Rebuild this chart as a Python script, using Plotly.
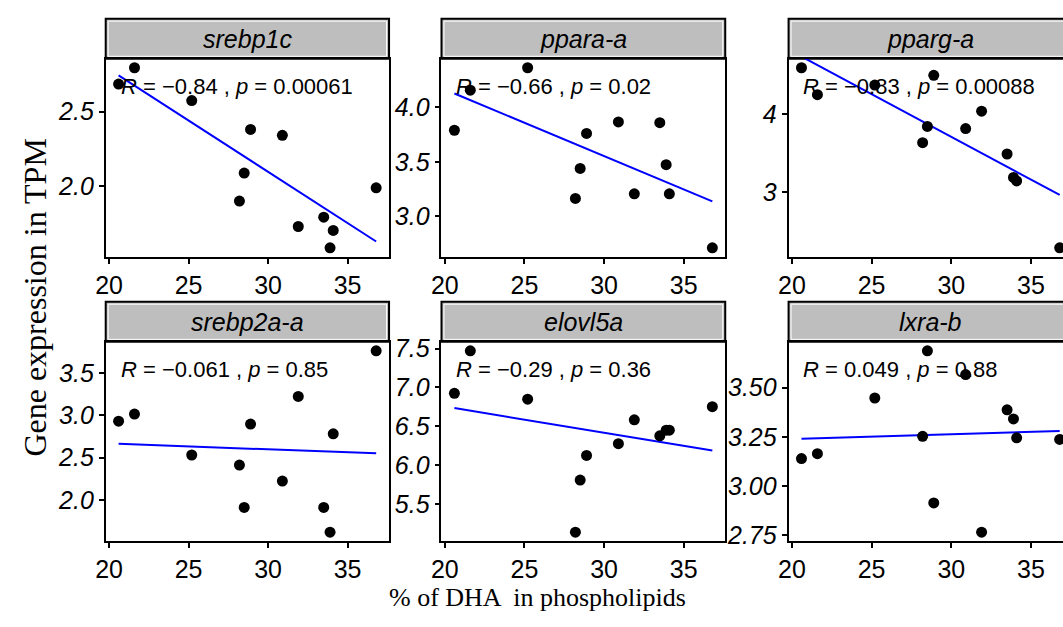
import numpy as np
import plotly.graph_objects as go

# ---------------- data ----------------
dha_pct = [20.6, 21.6, 25.2, 28.2, 28.5, 28.9, 30.9, 31.9, 33.5, 33.9, 34.1, 36.8]

genes = ["srebp1c", "ppara-a", "pparg-a", "srebp2a-a", "elovl5a", "lxra-b"]

srebp1c = [2.685, 2.794, 2.574, 1.902, 2.089, 2.381, 2.342, 1.732, 1.794, 1.589, 1.706, 1.991]
ppara_a = [3.79, 4.158, 4.364, 3.164, 3.439, 3.761, 3.866, 3.206, 3.859, 3.474, 3.206, 2.71]
pparg_a = [4.60, 4.253, 4.377, 3.635, 3.844, 4.502, 3.817, 4.04, 3.489, 3.187, 3.142, 2.28]
srebp2a_a = [2.931, 3.015, 2.531, 2.412, 1.911, 2.896, 2.223, 3.223, 1.911, 1.619, 2.781, 3.762]
elovl5a = [6.925, 7.47, 6.849, 5.14, 5.81, 6.126, 6.277, 6.583, 6.378, 6.45, 6.45, 6.752]
lxra_b = [3.14, 3.165, 3.447, 3.253, 3.686, 2.915, 3.566, 2.767, 3.387, 3.341, 3.245, 3.237]

expression = [srebp1c, ppara_a, pparg_a, srebp2a_a, elovl5a, lxra_b]

r_labels = ["\u22120.84", "\u22120.66", "\u22120.83", "\u22120.061", "\u22120.29", "0.049"]
p_labels = ["0.00061", "0.02", "0.00088", "0.85", "0.36", "0.88"]

x_ticks = [20, 25, 30, 35]
y_ticks = [
    [2.0, 2.5],
    [3.0, 3.5, 4.0],
    [3, 4],
    [2.0, 2.5, 3.0, 3.5],
    [5.5, 6.0, 6.5, 7.0, 7.5],
    [2.75, 3.00, 3.25, 3.50],
]
y_tick_text = [
    ["2.0", "2.5"],
    ["3.0", "3.5", "4.0"],
    ["3", "4"],
    ["2.0", "2.5", "3.0", "3.5"],
    ["5.5", "6.0", "6.5", "7.0", "7.5"],
    ["2.75", "3.00", "3.25", "3.50"],
]

x_title = "% of DHA  in phospholipids"
y_title = "Gene expression in TPM"

# ---------------- layout geometry (pixels) ----------------
W, H = 1063, 627
col_px = [(95.7, 382.0), (435.0, 721.7), (785.7, 1072.7)]
row_px = [(53.0, 256.0), (343.0, 547.3)]
strip_h = 41.0

SANS = "Arial, Liberation Sans, sans-serif"
SERIF = "Times New Roman, Liberation Serif, serif"

fig = go.Figure()
layout = dict(
    width=W, height=H,
    margin=dict(l=0, r=0, t=0, b=0),
    paper_bgcolor="white", plot_bgcolor="white",
    showlegend=False,
)
shapes = []
annotations = []

x_arr = np.array(dha_pct)
xspan = x_arr.max() - x_arr.min()
x_lo = x_arr.min() - 0.05 * xspan
x_hi = x_arr.max() + 0.05 * xspan

for i, gene in enumerate(genes):
    r, c = divmod(i, 3)
    idx = i + 1
    xa = "x" if idx == 1 else f"x{idx}"
    ya = "y" if idx == 1 else f"y{idx}"
    left, right = col_px[c]
    top, bot = row_px[r]

    d_right = min(right, W)
    xdom = [left / W, d_right / W]
    ydom = [1 - bot / H, 1 - top / H]
    xr_hi = x_lo + (x_hi - x_lo) * (d_right - left) / (right - left)

    y_arr = np.array(expression[i])
    yspan = y_arr.max() - y_arr.min()
    y_lo = y_arr.min() - 0.05 * yspan
    y_hi = y_arr.max() + 0.05 * yspan

    # least-squares regression line over the data range
    slope, intercept = np.polyfit(x_arr, y_arr, 1)
    lx = np.array([x_arr.min(), x_arr.max()])
    ly = slope * lx + intercept

    fig.add_trace(go.Scatter(x=lx, y=ly, mode="lines",
                             line=dict(color="#0000FF", width=2),
                             xaxis=xa, yaxis=ya, hoverinfo="skip"))
    fig.add_trace(go.Scatter(x=x_arr, y=y_arr, mode="markers",
                             marker=dict(color="black", size=11),
                             xaxis=xa, yaxis=ya))

    xkey = "xaxis" if idx == 1 else f"xaxis{idx}"
    ykey = "yaxis" if idx == 1 else f"yaxis{idx}"
    layout[xkey] = dict(
        domain=xdom, anchor=ya, range=[x_lo, xr_hi],
        tickvals=x_ticks, ticktext=[str(t) for t in x_ticks],
        ticks="outside", ticklen=5, tickwidth=1.5, tickcolor="black",
        showline=True, linecolor="black", linewidth=1.8, mirror=True,
        showgrid=False, zeroline=False,
        tickfont=dict(family=SANS, size=25, color="black"),
    )
    layout[ykey] = dict(
        domain=ydom, anchor=xa, range=[y_lo, y_hi],
        tickvals=y_ticks[i], ticktext=y_tick_text[i],
        ticks="outside", ticklen=5, tickwidth=1.5, tickcolor="black",
        showline=True, linecolor="black", linewidth=1.8,
        mirror=(c < 2),
        showgrid=False, zeroline=False,
        tickfont=dict(family=SANS, size=25, color="black", style="italic"),
    )

    # facet strip
    s_top = top - strip_h
    shapes.append(dict(type="rect", xref="paper", yref="paper",
                       x0=left / W, x1=right / W,
                       y0=1 - top / H, y1=1 - s_top / H,
                       fillcolor="#BEBEBE", line=dict(color="black", width=2),
                       layer="below"))
    shapes.append(dict(type="rect", xref="paper", yref="paper",
                       x0=(left + 2.5) / W, x1=(right - 2.5) / W,
                       y0=1 - (top - 2.5) / H, y1=1 - (s_top + 2.5) / H,
                       fillcolor="rgba(0,0,0,0)", line=dict(color="white", width=1),
                       layer="below"))
    annotations.append(dict(xref="paper", yref="paper",
                            x=(left + right) / 2 / W, y=1 - (s_top + strip_h / 2) / H,
                            text=f"<i>{gene}</i>", showarrow=False,
                            xanchor="center", yanchor="middle",
                            font=dict(family=SANS, size=25, color="black")))

    # correlation label
    annotations.append(dict(xref=xa, yref=f"{ya} domain",
                            x=x_arr.min(), y=1 - 28 / (bot - top),
                            text=f"<i>R</i> = {r_labels[i]} , <i>p</i> = {p_labels[i]}",
                            showarrow=False, xanchor="left", yanchor="middle",
                            font=dict(family=SANS, size=22, color="black")))

annotations.append(dict(xref="paper", yref="paper", x=24 / W, y=1 - 298 / H,
                        text=y_title, textangle=-90, showarrow=False,
                        xanchor="center", yanchor="middle",
                        font=dict(family=SERIF, size=32, color="black")))
annotations.append(dict(xref="paper", yref="paper", x=532 / W, y=1 - 605 / H,
                        text=x_title, showarrow=False,
                        xanchor="center", yanchor="middle",
                        font=dict(family=SERIF, size=26, color="black")))

layout["shapes"] = shapes
layout["annotations"] = annotations
fig.update_layout(**layout)
fig.write_html("out.html")
